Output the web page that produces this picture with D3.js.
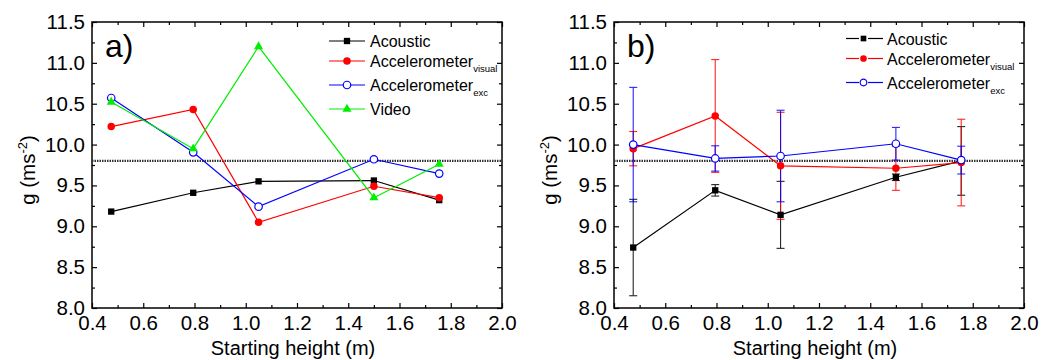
<!DOCTYPE html>
<html>
<head>
<meta charset="utf-8">
<script src="https://cdnjs.cloudflare.com/ajax/libs/d3/7.8.5/d3.min.js"></script>
<style>
  body { margin: 0; background: #fff; }
  svg { display: block; font-family: "Liberation Sans", Arial, sans-serif; }
</style>
</head>
<body>
<svg id="chart"></svg>
<script>
// data
var heights = [0.475, 0.795, 1.05, 1.5, 1.755];
var gRef = 9.8;

// panel a)
var acousticA  = [9.18, 9.41, 9.55, 9.56, 9.32];
var accVisualA = [10.22, 10.43, 9.05, 9.49, 9.35];
var accExcA    = [10.57, 9.905, 9.24, 9.82, 9.645];
var videoA     = [10.52, 9.95, 11.2, 9.35, 9.76];

// panel b) with error bars
var acousticB    = [8.74, 9.44, 9.14, 9.6, 9.8];
var acousticErr  = [0.59, 0.07, 0.41, 0.04, 0.42];
var accVisualB   = [9.95, 10.35, 9.74, 9.71, 9.78];
var accVisualErr = [0.21, 0.69, 0.655, 0.27, 0.53];
var accExcB      = [10.0, 9.83, 9.86, 10.01, 9.81];
var accExcErr    = [0.70, 0.155, 0.56, 0.20, 0.17];

var xTicks = [0.4, 0.6, 0.8, 1.0, 1.2, 1.4, 1.6, 1.8, 2.0];
var yTicks = [8.0, 8.5, 9.0, 9.5, 10.0, 10.5, 11.0, 11.5];

var width = 1050;
var height = 360;
var plotW = 410;
var plotH = 286;
var plotTop = 22;

var svg = d3.select("#chart")
  .attr("width", width)
  .attr("height", height);

var x = d3.scaleLinear().domain([0.4, 2.0]).range([0, plotW]);
var y = d3.scaleLinear().domain([8.0, 11.5]).range([plotH, 0]);

var xMinor = d3.range(0.5, 2.0, 0.2);
var yMinor = d3.range(8.25, 11.5, 0.5);

function markerPath(type, small) {
  var k = small ? 0.8 : 1;
  if (type == "square") return d3.symbol(d3.symbolSquare, 40 * k)();
  if (type == "triangle") return d3.symbol(d3.symbolTriangle, 36 * k)();
  return d3.symbol(d3.symbolCircle, 44 * k)();
}

function drawMarkers(g, s, small) {
  g.selectAll(null)
    .data(s.values)
    .enter().append("path")
    .attr("transform", function (d, i) { return "translate(" + x(heights[i]) + "," + y(d) + ")"; })
    .attr("d", markerPath(s.marker, small))
    .attr("fill", s.hollow ? "#fff" : s.color)
    .attr("stroke", s.hollow ? s.color : "none")
    .attr("stroke-width", 1.2);
}

function drawFrame(g, label) {
  var fmt = d3.format(".1f");

  // minor ticks all round, pointing inward
  g.append("g").attr("transform", "translate(0," + plotH + ")")
    .call(d3.axisBottom(x).tickValues(xMinor).tickSize(-3).tickFormat(""));
  g.append("g")
    .call(d3.axisTop(x).tickValues(xMinor).tickSize(-3).tickFormat(""));
  g.append("g")
    .call(d3.axisLeft(y).tickValues(yMinor).tickSize(-3).tickFormat(""));
  g.append("g").attr("transform", "translate(" + plotW + ",0)")
    .call(d3.axisRight(y).tickValues(yMinor).tickSize(-3).tickFormat(""));

  // major ticks
  g.append("g").attr("class", "ax").attr("transform", "translate(0," + plotH + ")")
    .call(d3.axisBottom(x).tickValues(xTicks).tickSize(-5).tickPadding(7).tickFormat(fmt));
  g.append("g").attr("class", "ax")
    .call(d3.axisLeft(y).tickValues(yTicks).tickSize(-5).tickPadding(7).tickFormat(fmt));
  g.append("g")
    .call(d3.axisTop(x).tickValues(xTicks).tickSize(-5).tickFormat(""));
  g.append("g").attr("transform", "translate(" + plotW + ",0)")
    .call(d3.axisRight(y).tickValues(yTicks).tickSize(-5).tickFormat(""));

  g.selectAll(".domain").remove();
  g.selectAll(".tick line").attr("stroke", "#000").attr("stroke-width", 1.2);
  g.selectAll(".ax text")
    .attr("font-size", "20.5px")
    .attr("fill", "#000")
    .attr("font-family", "Liberation Sans, Arial, sans-serif");

  g.append("rect")
    .attr("width", plotW)
    .attr("height", plotH)
    .attr("fill", "none")
    .attr("stroke", "#000")
    .attr("stroke-width", 1.5);

  // reference line at g = 9.8
  g.append("line")
    .attr("x1", 0).attr("x2", plotW)
    .attr("y1", y(gRef)).attr("y2", y(gRef))
    .attr("stroke", "#333")
    .attr("stroke-width", 2.4)
    .attr("stroke-dasharray", "1.5,1");

  // axis titles
  g.append("text")
    .attr("x", plotW / 2 - 4)
    .attr("y", 355 - plotTop)
    .attr("text-anchor", "middle")
    .attr("font-size", "20px")
    .text("Starting height (m)");

  var yt = g.append("text")
    .attr("transform", "translate(-57," + (170 - plotTop) + ") rotate(-90)")
    .attr("text-anchor", "middle")
    .attr("font-size", "20.5px");
  yt.append("tspan").text("g (ms");
  yt.append("tspan").attr("font-size", "13px").attr("dy", -8).text("-2");
  yt.append("tspan").attr("dy", 8).text(")");

  g.append("text")
    .attr("x", 13)
    .attr("y", 57 - plotTop)
    .attr("font-size", "32px")
    .text(label);
}

function drawLegend(g, series, lx, rows, small) {
  series.forEach(function (s, i) {
    var r = g.append("g").attr("transform", "translate(" + lx + "," + rows[i] + ")");
    if (small) {
      r.append("line").attr("x1", 0).attr("x2", 13).attr("stroke", s.color).attr("stroke-width", 1.2);
      r.append("line").attr("x1", 22).attr("x2", 37).attr("stroke", s.color).attr("stroke-width", 1.2);
    } else {
      r.append("line").attr("x1", 0).attr("x2", 36).attr("stroke", s.color).attr("stroke-width", 1.2);
    }
    r.append("path")
      .attr("transform", "translate(" + (small ? 17.5 : 18) + ",0)")
      .attr("d", markerPath(s.marker, small))
      .attr("fill", s.hollow ? "#fff" : s.color)
      .attr("stroke", s.hollow ? s.color : "none")
      .attr("stroke-width", 1.2);
    var t = r.append("text")
      .attr("x", 41)
      .attr("y", 6)
      .attr("font-size", "16px")
      .text(s.name);
    if (s.sub) {
      t.append("tspan").attr("font-size", "9.5px").attr("dy", 5).text(s.sub);
    }
  });
}

var line = d3.line()
  .x(function (d, i) { return x(heights[i]); })
  .y(function (d) { return y(d); });

// ---- panel a ----
var seriesA = [
  { name: "Acoustic", sub: "", values: acousticA, color: "#000000", marker: "square" },
  { name: "Accelerometer", sub: "visual", values: accVisualA, color: "#ff0000", marker: "circle" },
  { name: "Accelerometer", sub: "exc", values: accExcA, color: "#0000ff", marker: "circle", hollow: true },
  { name: "Video", sub: "", values: videoA, color: "#00ee00", marker: "triangle" }
];

var ga = svg.append("g").attr("transform", "translate(92," + plotTop + ")");
drawFrame(ga, "a)");

seriesA.forEach(function (s) {
  ga.append("path")
    .datum(s.values)
    .attr("d", line)
    .attr("fill", "none")
    .attr("stroke", s.color)
    .attr("stroke-width", 1.2);
  drawMarkers(ga, s, false);
});
drawLegend(ga, seriesA, 237, [19, 39, 63, 87], false);

// ---- panel b ----
var seriesB = [
  { name: "Acoustic", sub: "", values: acousticB, err: acousticErr, color: "#000000", marker: "square" },
  { name: "Accelerometer", sub: "visual", values: accVisualB, err: accVisualErr, color: "#ff0000", marker: "circle" },
  { name: "Accelerometer", sub: "exc", values: accExcB, err: accExcErr, color: "#0000ff", marker: "circle", hollow: true }
];

var gb = svg.append("g").attr("transform", "translate(614," + plotTop + ")");
drawFrame(gb, "b)");

seriesB.forEach(function (s) {
  var eb = gb.append("g")
    .attr("stroke", s.color)
    .attr("stroke-width", 1.1)
    .attr("opacity", 0.85);
  s.values.forEach(function (v, i) {
    var cx = x(heights[i]);
    var y0 = y(v - s.err[i]);
    var y1 = y(v + s.err[i]);
    eb.append("line").attr("x1", cx).attr("x2", cx).attr("y1", y0).attr("y2", y1);
    eb.append("line").attr("x1", cx - 4).attr("x2", cx + 4).attr("y1", y0).attr("y2", y0);
    eb.append("line").attr("x1", cx - 4).attr("x2", cx + 4).attr("y1", y1).attr("y2", y1);
  });
});

seriesB.forEach(function (s) {
  gb.append("path")
    .datum(s.values)
    .attr("d", line)
    .attr("fill", "none")
    .attr("stroke", s.color)
    .attr("stroke-width", 1.2);
  drawMarkers(gb, s, false);
});
drawLegend(gb, seriesB, 232, [16.5, 36.5, 60.5], true);
</script>
</body>
</html>
